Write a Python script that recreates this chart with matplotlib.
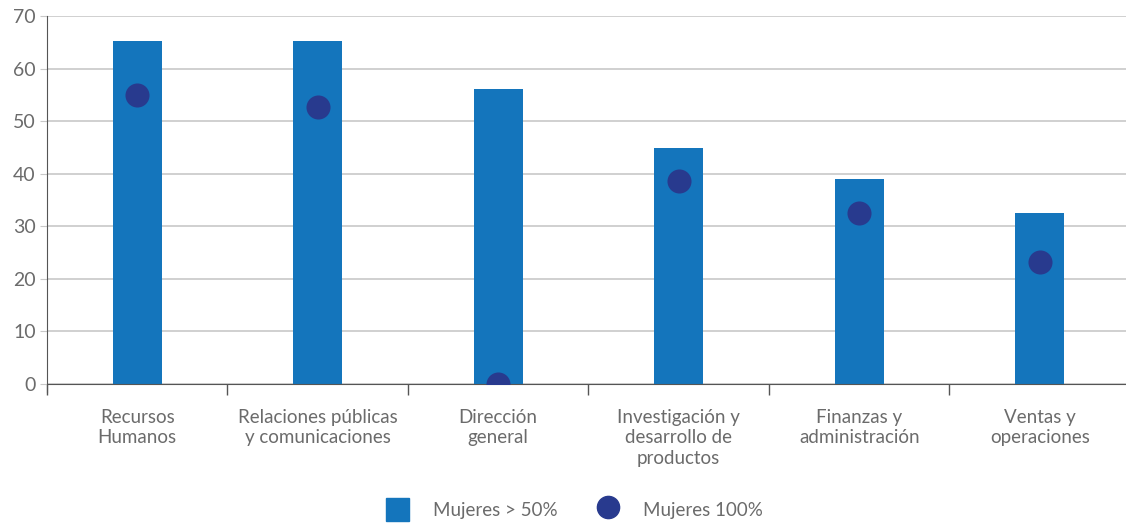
import matplotlib.pyplot as plt
import numpy as np
from matplotlib.lines import Line2D
from matplotlib.patches import Patch

plt.rcParams['font.family'] = ['Lato', 'DejaVu Sans']

categories = ["Recursos\nHumanos", "Relaciones públicas\ny comunicaciones", "Dirección\ngeneral",
              "Investigación y\ndesarrollo de\nproductos", "Finanzas y\nadministración", "Ventas y\noperaciones"]
mayoria = [65.2, 65.2, 56.1, 44.9, 39.0, 32.5]
total = [55.0, 52.7, 0.0, 38.6, 32.5, 23.2]

bar_color = "#1475BC"
dot_color = "#283A8E"
text_color = "#6b6b6b"

fig = plt.figure(figsize=(11.26, 5.23), dpi=100)
ax = fig.add_axes([0.0417, 0.2658, 0.9618, 0.7037])

x = np.arange(len(categories))
ax.bar(x, mayoria, width=0.27, color=bar_color, zorder=2)
ax.scatter(x, total, s=300, color=dot_color, zorder=3, linewidths=0)

ax.set_xlim(-0.5, len(categories) - 0.5)
ax.set_ylim(0, 70)
ax.set_yticks(range(0, 71, 10))
ax.yaxis.grid(True, color="#c8c8c8", linewidth=1.2, zorder=0)
ax.tick_params(axis="y", length=5, color="#c8c8c8", labelsize=14, labelcolor=text_color, pad=3)

# boundaries as major ticks, labels on minor ticks at centres
ax.set_xticks(np.arange(-0.5, len(categories), 1.0))
ax.set_xticklabels([])
ax.tick_params(axis="x", which="major", length=8, color="#555555", width=1)
ax.set_xticks(x, minor=True)
ax.set_xticklabels(categories, minor=True, fontsize=13.5, color=text_color, linespacing=1.25)
ax.tick_params(axis="x", which="minor", length=0, pad=18)

for side in ["top", "right"]:
    ax.spines[side].set_visible(False)
ax.spines["left"].set_color("#555555")
ax.spines["bottom"].set_color("#555555")
ax.spines["left"].set_bounds(-1.5, 70)
ax.spines["left"].set_clip_on(False)

handles = [Patch(color=bar_color, label="Mujeres > 50%"),
           Line2D([], [], marker="o", linestyle="", markersize=16, color=dot_color, label="Mujeres 100%")]
fig.legend(handles=handles, loc="center", bbox_to_anchor=(0.5105, 0.025), ncol=2, frameon=False,
           fontsize=13.5, labelcolor=text_color, handlelength=1.2, handleheight=1.5,
           handletextpad=1.3, columnspacing=2.05)

fig.savefig("out.png", dpi=100)
